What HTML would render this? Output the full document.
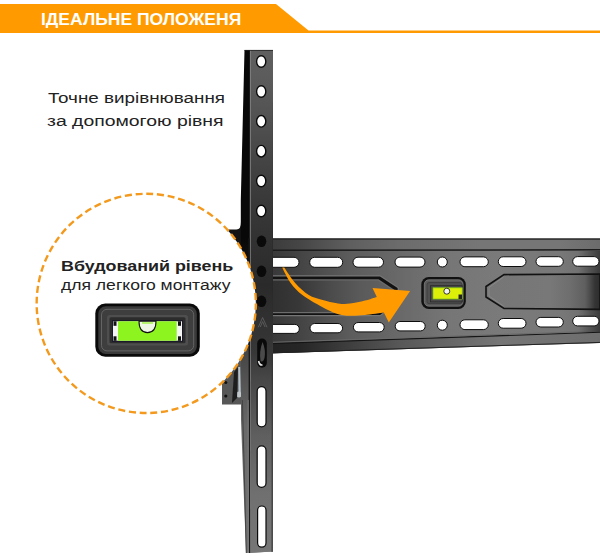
<!DOCTYPE html>
<html><head><meta charset="utf-8">
<style>
html,body{margin:0;padding:0;background:#fff;}
body{width:600px;height:556px;overflow:hidden;position:relative;font-family:"Liberation Sans",sans-serif;}
svg{position:absolute;left:0;top:0;}
.t{position:absolute;white-space:nowrap;color:#222;}
</style></head><body>
<svg width="600" height="556" viewBox="0 0 600 556">
<defs>
<linearGradient id="railh" x1="268" y1="0" x2="600" y2="0" gradientUnits="userSpaceOnUse"><stop offset="0.000" stop-color="#373737"/><stop offset="0.096" stop-color="#444444"/><stop offset="0.247" stop-color="#5c5c5c"/><stop offset="0.398" stop-color="#696969"/><stop offset="0.548" stop-color="#767676"/><stop offset="0.699" stop-color="#7a7a7a"/><stop offset="0.880" stop-color="#787878"/><stop offset="1.000" stop-color="#6a6a6a"/></linearGradient>
<linearGradient id="flg" x1="268" y1="0" x2="600" y2="0" gradientUnits="userSpaceOnUse"><stop offset="0.000" stop-color="#3a3a3a"/><stop offset="0.096" stop-color="#464646"/><stop offset="0.247" stop-color="#5f5f5f"/><stop offset="0.398" stop-color="#6c6c6c"/><stop offset="0.639" stop-color="#767676"/><stop offset="0.880" stop-color="#767676"/><stop offset="1.000" stop-color="#6c6c6c"/></linearGradient>
<linearGradient id="flg2" x1="268" y1="0" x2="600" y2="0" gradientUnits="userSpaceOnUse"><stop offset="0.000" stop-color="#222222"/><stop offset="0.096" stop-color="#262626"/><stop offset="0.398" stop-color="#585858"/><stop offset="0.699" stop-color="#767676"/><stop offset="1.000" stop-color="#6e6e6e"/></linearGradient>
<linearGradient id="lpg" x1="268" y1="0" x2="600" y2="0" gradientUnits="userSpaceOnUse"><stop offset="0.000" stop-color="#2e2e2e"/><stop offset="0.096" stop-color="#383838"/><stop offset="0.187" stop-color="#4b4b4b"/><stop offset="0.277" stop-color="#5a5a5a"/><stop offset="0.398" stop-color="#646464"/></linearGradient>
<linearGradient id="rpg" x1="486" y1="0" x2="600" y2="0" gradientUnits="userSpaceOnUse"><stop offset="0.000" stop-color="#767676"/><stop offset="0.561" stop-color="#787878"/><stop offset="0.737" stop-color="#6e6e6e"/><stop offset="0.868" stop-color="#5f5f5f"/><stop offset="0.912" stop-color="#4b4b4b"/><stop offset="0.956" stop-color="#343434"/><stop offset="1.000" stop-color="#2d2d2d"/></linearGradient>
<linearGradient id="frontg" x1="0" y1="50" x2="0" y2="553" gradientUnits="userSpaceOnUse"><stop offset="0.000" stop-color="#5f5f5f"/><stop offset="0.050" stop-color="#5c5c5c"/><stop offset="0.109" stop-color="#555555"/><stop offset="0.290" stop-color="#3a3a3a"/><stop offset="0.374" stop-color="#323232"/><stop offset="0.467" stop-color="#2a2a2a"/><stop offset="0.602" stop-color="#373737"/><stop offset="0.652" stop-color="#464646"/><stop offset="0.767" stop-color="#5f5f5f"/><stop offset="0.885" stop-color="#707070"/><stop offset="1.000" stop-color="#767676"/></linearGradient>
<linearGradient id="sideg" x1="0" y1="50" x2="0" y2="553" gradientUnits="userSpaceOnUse"><stop offset="0.000" stop-color="#080808"/><stop offset="0.374" stop-color="#080808"/><stop offset="0.497" stop-color="#1e1e1e"/><stop offset="0.602" stop-color="#464646"/><stop offset="0.746" stop-color="#696969"/><stop offset="0.845" stop-color="#6e6e6e"/><stop offset="1.000" stop-color="#727272"/></linearGradient>
<linearGradient id="rdark" x1="578" y1="0" x2="600" y2="0" gradientUnits="userSpaceOnUse"><stop offset="0" stop-color="#000" stop-opacity="0"/><stop offset="1" stop-color="#000" stop-opacity="0.45"/></linearGradient>
</defs>
<!-- banner -->
<polygon points="0,4 276,4 308.5,30.6 600,30.6 600,33 0,33" fill="#FF9B00"/>
<!-- rail -->
<polygon points="268,238.5 600,238.5 600,342.9 268,353.4" fill="url(#railh)"/>
<!-- top flange -->
<polygon points="268,238.5 600,238.5 600,249.5 268,250" fill="url(#flg)"/>
<line x1="268" y1="239.1" x2="600" y2="239.1" stroke="#262626" stroke-width="1.2"/>
<line x1="268" y1="250.3" x2="600" y2="249.8" stroke="#1c1c1c" stroke-width="1.4"/>

<!-- bottom flange -->
<polygon points="268,343.2 600,332 600,342.9 268,353.4" fill="url(#flg2)"/>
<line x1="268" y1="343.7" x2="600" y2="332.3" stroke="#151515" stroke-width="1.1"/>
<line x1="268" y1="342.4" x2="600" y2="331.1" stroke="#6a6a6a" stroke-width="0.9"/>
<line x1="268" y1="352.9" x2="600" y2="342.4" stroke="#222" stroke-width="1"/>
<rect x="578" y="251" width="22" height="81" fill="url(#rdark)"/>
<!-- upper slots -->
<g fill="#fff" stroke="#0d0d0d" stroke-width="1">
<rect x="266.0" y="257.3" width="33.0" height="10.0" rx="5.00"/>
<rect x="309.7" y="257.3" width="33.0" height="10.0" rx="5.00"/>
<rect x="353.0" y="257.2" width="30.5" height="10.0" rx="5.00"/>
<rect x="395.0" y="257.1" width="30.0" height="10.0" rx="5.00"/>
<circle cx="442.3" cy="262" r="5"/>
<rect x="460.0" y="256.9" width="28.3" height="9.8" rx="4.90"/>
<rect x="498.3" y="256.8" width="27.7" height="9.7" rx="4.85"/>
<rect x="536.0" y="256.7" width="27.3" height="9.6" rx="4.80"/>
<rect x="572.7" y="256.6" width="26.3" height="9.6" rx="4.80"/>
</g>
<!-- lower slots -->
<g fill="#fff" stroke="#0d0d0d" stroke-width="1">
<rect x="266.0" y="324.4" width="33.3" height="9.0" rx="4.50"/>
<rect x="310.0" y="323.5" width="32.6" height="9.3" rx="4.65"/>
<rect x="353.4" y="322.5" width="30.8" height="9.4" rx="4.70"/>
<rect x="395.2" y="321.5" width="30.0" height="9.4" rx="4.70"/>
<circle cx="442.3" cy="325.2" r="5"/>
<rect x="460.0" y="319.8" width="28.3" height="9.8" rx="4.90"/>
<rect x="498.3" y="318.5" width="27.7" height="9.7" rx="4.85"/>
<rect x="536.0" y="317.4" width="27.3" height="9.6" rx="4.80"/>
<rect x="572.7" y="316.3" width="26.3" height="9.6" rx="4.80"/>
</g>
<!-- left panel -->
<polygon points="268,275.3 380.3,275.3 398.8,287.5 398.8,302 380.3,316.3 268,316.3" fill="#767676"/>
<polygon points="268,276.6 380,276.6 397.6,288.1 397.6,301.4 380,315 268,315" fill="#121212"/>
<polygon points="268,279.3 378.5,279.3 394.6,290 394.6,299.6 378.5,313.2 268,313.2" fill="#6c6c6c"/>
<polygon points="268,280.5 378,280.5 393.4,290.6 393.4,299 378,312 268,312" fill="url(#lpg)"/>
<!-- right panel -->
<polygon points="504,274.6 600,274 600,309.4 504,308.5 486,297 486,286.5" fill="url(#rpg)" stroke="#121212" stroke-width="1.6"/>
<polyline points="503.5,277 489,287.5 489,296 503.5,306" fill="none" stroke="#8a8a8a" stroke-width="0.9"/>
<!-- rail level -->
<rect x="421.3" y="277" width="44.5" height="32" rx="7.5" fill="#111"/>
<rect x="424.3" y="279.8" width="38.8" height="26.4" rx="4.5" fill="#5a5a5a" stroke="#8a8a8a" stroke-width="0.7"/>
<rect x="427" y="282.6" width="35" height="21" rx="2" fill="#505050" stroke="#3a3a3a" stroke-width="0.8"/>
<rect x="430.5" y="285.7" width="31.7" height="16.2" fill="#4a4a4a" stroke="#2a2a2a" stroke-width="0.8"/>
<rect x="433" y="287.8" width="29.2" height="11.2" fill="#dcef08" stroke="#7fc21a" stroke-width="0.8"/>
<rect x="458.5" y="294.5" width="3.5" height="4.5" fill="#222"/>
<circle cx="446.8" cy="291.2" r="3" fill="#f4f4ee" stroke="#222" stroke-width="0.9"/>

<!-- arrow -->
<path d="M282.2,267.6 C283.6,270.2 287.4,278.7 290.8,283.3 C294.2,287.9 297.2,291.1 302.4,295.0 C307.5,298.9 316.0,303.6 321.7,306.7 C327.4,309.8 332.1,312.2 336.8,313.7 C341.5,315.2 345.3,315.6 350.0,315.8 C354.7,316.0 359.4,315.6 365.0,315.0 C370.6,314.4 380.8,312.9 383.9,312.5 L388.8,322.4 L410.1,291 L372.5,288.1 L376.8,296.9 C374.8,297.5 369.5,299.4 365.0,300.5 C360.5,301.6 354.5,303.1 350.0,303.6 C345.5,304.1 342.7,304.0 338.0,303.4 C333.3,302.8 326.6,301.1 321.7,299.7 C316.8,298.3 313.2,297.7 308.8,295.0 C304.4,292.3 299.5,287.9 295.4,283.3 C291.3,278.7 286.1,270.2 284.3,267.6 Z" fill="#FF9B00"/>

<!-- lower bracket -->
<polygon points="222,372 242,345 242,404.5 222,404.5" fill="#575757"/>
<path d="M238.2,367 L240.2,367 L240.8,392 L238.5,392 Z" fill="#b8c4cc"/><ellipse cx="239" cy="394.5" rx="2.6" ry="3" fill="#c0c8cc"/>
<path d="M234,372 L238,367 L237,398 L232,403 Z" fill="#1e1e1e"/>
<circle cx="225.8" cy="382.5" r="1.5" fill="#111"/>
<circle cx="225.8" cy="396" r="1.6" fill="#111"/>
<!-- upper bracket -->
<path d="M224,229.5 L236.5,229.5 Q241,229.5 241,222 L242,222 L242,285 L224,285 Z" fill="#141414"/>
<!-- vertical bar -->
<polygon points="244.5,50 273,50 273,551.5 246,553 241,420 241,360 240.8,240 240.8,200" fill="url(#sideg)"/>
<polygon points="250.3,50 273,50 272.7,551.5 249.8,553" fill="url(#frontg)"/>
<line x1="250.4" y1="50" x2="250.1" y2="553" stroke="#8a8a8a" stroke-width="0.9"/>
<line x1="249.2" y1="238" x2="249.5" y2="553" stroke="#181818" stroke-width="1.4"/>
<line x1="244.5" y1="50.4" x2="273" y2="50.4" stroke="#222" stroke-width="0.8"/>
<line x1="272.3" y1="353" x2="272.1" y2="552" stroke="#333" stroke-width="1"/>
<line x1="248.2" y1="400" x2="248.4" y2="553" stroke="#8c8c8c" stroke-width="0.7"/>
<line x1="242.4" y1="400" x2="246.3" y2="553" stroke="#444" stroke-width="1"/>
<!-- holes top -->
<g fill="#fff" stroke="#0a0a0a" stroke-width="1.4">
<ellipse cx="261.2" cy="61.5" rx="4.6" ry="5.8"/>
<ellipse cx="261.2" cy="91.5" rx="4.6" ry="5.8"/>
<ellipse cx="261.2" cy="121.3" rx="4.6" ry="5.8"/>
<ellipse cx="261.2" cy="151.2" rx="4.6" ry="5.8"/>
<ellipse cx="261.2" cy="181" rx="4.6" ry="5.8"/>
<ellipse cx="261.2" cy="211" rx="4.6" ry="5.8"/>
</g>
<g fill="#0a0a0a">
<ellipse cx="261.5" cy="241.3" rx="4.8" ry="5.8"/>
<ellipse cx="261.5" cy="271.3" rx="4.8" ry="5.8"/>
<ellipse cx="261.5" cy="301.3" rx="4.8" ry="5.8"/>
</g>
<path d="M258.3,327.3 L262.6,317.5 L267,327.3 M260.3,327 L262.6,321.6 L265,327" fill="none" stroke="#5e5e5e" stroke-width="0.9"/>
<!-- keyhole slot -->
<rect x="257.2" y="338.5" width="9.6" height="29.2" rx="4.8" fill="#0a0a0a"/>
<path d="M262.5,342 Q266,350 264.5,358 Q263,363 260.5,361 Q259,352 262.5,342 Z" fill="#4a4a4a"/>
<path d="M258.6,361 Q259.5,365.5 262.5,365" fill="none" stroke="#e8e8e8" stroke-width="1.6"/>
<!-- lower slots -->
<g fill="#fff" stroke="#0a0a0a" stroke-width="1.2">
<rect x="257.2" y="386.6" width="8.8" height="40.3" rx="4.4"/>
<rect x="257.2" y="445.8" width="8.8" height="41.5" rx="4.4"/>
<rect x="257.6" y="506" width="8.4" height="41.2" rx="4.2"/>
</g>

<!-- circle -->
<circle cx="146.25" cy="303.4" r="109.6" fill="#fff" stroke="#F39A1E" stroke-width="2.4" stroke-dasharray="7.0 3.76" stroke-dashoffset="0.5"/>

<!-- circle level -->
<rect x="95.3" y="303.5" width="104.5" height="53.2" rx="10" fill="#0a0a0a"/>
<rect x="98.3" y="306.3" width="98.5" height="47.6" rx="7.5" fill="#3a3a3a"/>
<rect x="101.5" y="309.3" width="92.2" height="41.6" rx="5.5" fill="#3e3e3e" stroke="#6e6e6e" stroke-width="0.8"/>
<rect x="107" y="315" width="81" height="30.5" rx="2.5" fill="#4e4e4e"/>
<rect x="109.5" y="317.3" width="76" height="26" rx="1.5" fill="#2c2c2c"/>
<rect x="112" y="320" width="71" height="22" fill="#1a1a2a"/>
<rect x="113" y="321.3" width="69" height="19.4" fill="#f4f4f4"/>
<rect x="118" y="321.3" width="58.7" height="19.4" fill="#8ef41f"/>
<rect x="113.5" y="321.3" width="3" height="4.5" fill="#111"/>
<rect x="113.5" y="336.3" width="3" height="4.5" fill="#111"/>
<rect x="178" y="321.3" width="3" height="4.5" fill="#111"/>
<rect x="178" y="336.3" width="3" height="4.5" fill="#111"/>
<path d="M139,321.3 L156,321.3 Q156,332.6 147.5,332.6 Q139,332.6 139,321.3 Z" fill="#eef6e6" stroke="#111" stroke-width="1.1"/>
<path d="M142,323 L153,323" stroke="#8ef41f" stroke-width="1.2"/>
</svg>

<div class="t" style="left:40.8px;top:12px;font-weight:bold;font-size:16px;line-height:1;color:#fff;transform:scaleX(1.095);transform-origin:0 0;">ІДЕАЛЬНЕ ПОЛОЖЕНЯ</div>
<div class="t" style="left:48px;top:89.5px;font-size:15.2px;line-height:1;transform:scaleX(1.24);transform-origin:0 0;">Точне вирівнювання</div>
<div class="t" style="left:47px;top:113px;font-size:15.2px;line-height:1;transform:scaleX(1.277);transform-origin:0 0;">за допомогою рівня</div>
<div class="t" style="left:61px;top:258.5px;font-weight:bold;font-size:14.7px;line-height:1;transform:scaleX(1.217);transform-origin:0 0;">Вбудований рівень</div>
<div class="t" style="left:61px;top:278.3px;font-size:14px;line-height:1;transform:scaleX(1.254);transform-origin:0 0;">для легкого монтажу</div>
</body></html>
